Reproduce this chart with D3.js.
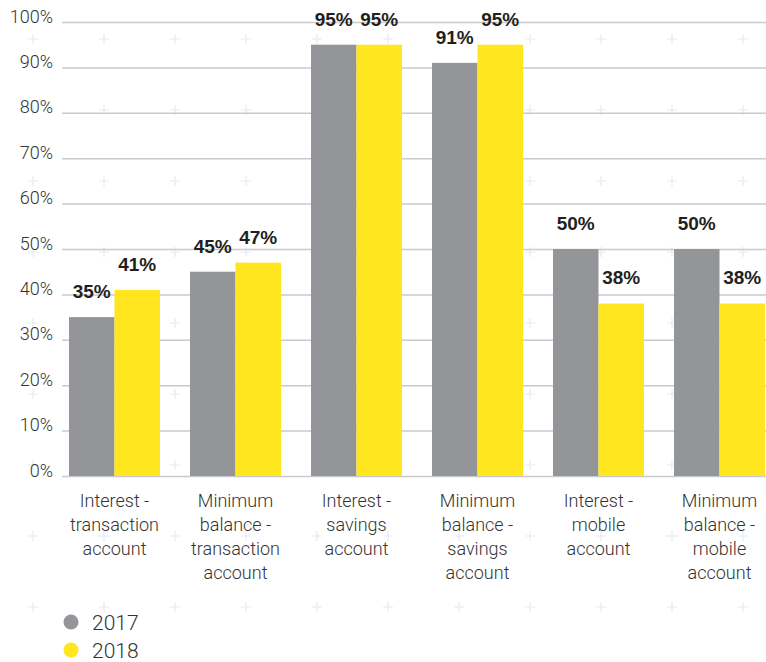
<!DOCTYPE html>
<html>
<head>
<meta charset="utf-8">
<script src="https://cdn.jsdelivr.net/npm/d3@7"></script>
<style>
  html, body { margin: 0; padding: 0; background: #ffffff; }
  svg { display: block; }
</style>
</head>
<body>
<svg id="chart" width="766" height="662"></svg>
<script>
// Account fee categories (each label split into display lines)
const categories = [
  ["Interest -", "transaction", "account"],
  ["Minimum", "balance -", "transaction", "account"],
  ["Interest -", "savings", "account"],
  ["Minimum", "balance -", "savings", "account"],
  ["Interest -", "mobile", "account"],
  ["Minimum", "balance -", "mobile", "account"]
];
const years = ["2017", "2018"];
const values2017 = [35, 45, 95, 91, 50, 50];
const values2018 = [41, 47, 95, 95, 38, 38];
const yTicks = [0, 10, 20, 30, 40, 50, 60, 70, 80, 90, 100];
const colors = ["#939598", "#ffe61e"];

const svg = d3.select("#chart");
const W = 766;

// Faint "+" pattern in the background
const deco = svg.append("g").attr("class", "pattern");
const px = d3.range(33, W, 71);
const py = d3.range(39, 662, 71);
py.forEach(y => px.forEach(x => {
  deco.append("path")
    .attr("d", `M${x - 5},${y}H${x + 5}M${x},${y - 5}V${y + 5}`)
    .attr("stroke", "#e6ebf0")
    .attr("stroke-width", 1.2)
    .attr("fill", "none");
}));

const y = d3.scaleLinear().domain([0, 100]).range([476, 22]);
const x0 = d3.scaleBand()
  .domain(d3.range(categories.length))
  .range([54, 780])
  .paddingInner(0.248)
  .paddingOuter(0.124);
const x1 = d3.scaleBand().domain(years).range([0, x0.bandwidth()]);

// Horizontal gridlines with percentage labels
const yAxis = d3.axisLeft(y)
  .tickValues(yTicks)
  .tickSize(-(W - 62))
  .tickFormat(d => d + "%");
const gy = svg.append("g")
  .attr("transform", "translate(62,0)")
  .call(yAxis);
gy.select(".domain").remove();
gy.selectAll(".tick line")
  .attr("stroke", "#c9cacc")
  .attr("stroke-width", 1.5);
gy.selectAll(".tick text")
  .attr("x", -9)
  .attr("dy", 0)
  .attr("fill", "#333333")
  .style("font-family", "Roboto, 'Liberation Sans', sans-serif")
  .style("font-weight", 300)
  .style("font-size", "18px");

// Bars
const series = [values2017, values2018];
const groups = svg.append("g").selectAll("g")
  .data(categories)
  .join("g")
  .attr("transform", (d, i) => `translate(${x0(i)},0)`);

years.forEach((yr, s) => {
  groups.append("rect")
    .attr("x", x1(yr))
    .attr("width", x1.bandwidth())
    .attr("y", (d, i) => y(series[s][i]))
    .attr("height", (d, i) => y(0) - y(series[s][i]))
    .attr("fill", colors[s]);
});

// Value labels
years.forEach((yr, s) => {
  groups.append("text")
    .attr("x", x1(yr) + x1.bandwidth() / 2)
    .attr("y", (d, i) => y(series[s][i]) - 19)
    .attr("text-anchor", "middle")
    .attr("fill", "#231f20")
    .style("font-family", "'Liberation Sans', Arial, sans-serif")
    .style("font-weight", 700)
    .style("font-size", "19px")
    .text((d, i) => series[s][i] + "%");
});

// Category labels
groups.append("text")
  .attr("text-anchor", "middle")
  .attr("fill", "#333333")
  .style("font-family", "Roboto, 'Liberation Sans', sans-serif")
  .style("font-weight", 300)
  .style("font-size", "18px")
  .selectAll("tspan")
  .data(d => d)
  .join("tspan")
  .attr("x", x0.bandwidth() / 2)
  .attr("y", (d, i) => 507 + i * 24)
  .text(d => d);

// Legend
const legend = svg.append("g")
  .selectAll("g")
  .data(years)
  .join("g")
  .attr("transform", (d, i) => `translate(71,${622 + i * 28})`);
legend.append("circle")
  .attr("r", 7.5)
  .attr("fill", (d, i) => colors[i]);
legend.append("text")
  .attr("x", 21)
  .attr("y", 7.5)
  .attr("fill", "#333333")
  .style("font-family", "Roboto, 'Liberation Sans', sans-serif")
  .style("font-weight", 300)
  .style("font-size", "21px")
  .text(d => d);
</script>
</body>
</html>
